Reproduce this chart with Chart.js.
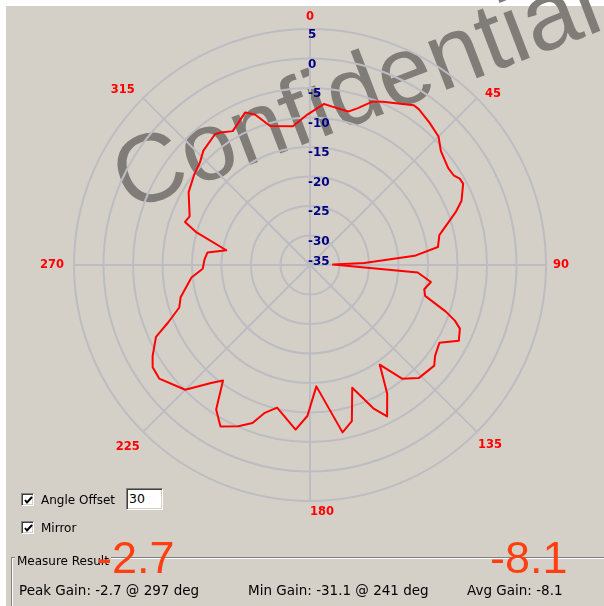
<!DOCTYPE html>
<html><head><meta charset="utf-8">
<script src="https://cdn.jsdelivr.net/npm/chart.js@4.4.1/dist/chart.umd.min.js"></script>
<style>
html,body{margin:0;padding:0;background:#fff;width:604px;height:606px;overflow:hidden}
body{position:relative}
.abs{position:absolute}
#panel{left:6px;top:6px;width:598px;height:600px;background:#d4d0c8}
#wm{left:128px;top:130px;font:97px "Liberation Sans",Arial,sans-serif;color:#807d79;white-space:nowrap;line-height:1;transform-origin:0 82px;transform:rotate(-21deg)}
#chart{left:0;top:0}
.ui{font:12px "DejaVu Sans",sans-serif;line-height:1;color:#000;white-space:nowrap}
.gain{font:13.5px "DejaVu Sans",sans-serif;line-height:1;color:#000;white-space:nowrap}
.chk{width:11px;height:11px;background:#fff;border:1px solid;border-color:#808080 #fff #fff #808080;box-shadow:inset 1px 1px 0 #404040, inset -1px -1px 0 #d4d0c8}
.chk svg{position:absolute;left:2px;top:2px}
#inp{left:126px;top:488px;width:33px;height:20px;background:#fff;border:1px solid;border-color:#808080 #fff #fff #808080;box-shadow:inset 1px 1px 0 #404040, inset -1px -1px 0 #d4d0c8;font:12.5px "DejaVu Sans",sans-serif;line-height:20px;padding-left:2px}
#group{left:11px;top:557px;width:700px;height:100px;border:1px solid #808080;box-shadow:inset 1px 1px 0 #fff, 1px 1px 0 #fff}
#legend{left:15px;top:555px;background:#d4d0c8;padding:0 2px}
.big{font:45px "Liberation Sans",Arial,sans-serif;line-height:1;color:#ff3f12;white-space:nowrap}
</style>
</head>
<body>
<div id="panel" class="abs"></div>
<div id="wm" class="abs">Confidential</div>
<canvas id="chart" class="abs" width="604" height="606"></canvas>

<div class="abs chk" style="left:21px;top:493px"><svg width="9" height="9" viewBox="0 0 9 9"><polyline points="1,4 3,6.5 8,1" fill="none" stroke="#000" stroke-width="2"/></svg></div>
<div class="abs ui" style="left:41px;top:494px">Angle Offset</div>
<div id="inp" class="abs">30</div>
<div class="abs chk" style="left:21px;top:521px"><svg width="9" height="9" viewBox="0 0 9 9"><polyline points="1,4 3,6.5 8,1" fill="none" stroke="#000" stroke-width="2"/></svg></div>
<div class="abs ui" style="left:41px;top:522px">Mirror</div>

<div id="group" class="abs"></div>
<div id="legend" class="abs ui">Measure Result</div>
<div class="abs gain" style="left:19px;top:584px">Peak Gain: -2.7 @ 297 deg</div>
<div class="abs gain" style="left:248px;top:584px">Min Gain: -31.1 @ 241 deg</div>
<div class="abs gain" style="left:467px;top:584px">Avg Gain: -8.1</div>
<div class="abs big" style="left:97px;top:535px">-2.7</div>
<div class="abs big" style="left:490px;top:535px">-8.1</div>

<script>
// ---- data (display angle in degrees, gain in dB) ----
const measuredAngles = [5, 8, 14, 17, 21, 24, 33, 35, 40, 45, 49, 55, 58, 60, 62, 67, 70, 77, 82, 85, 88, 89,
  94, 98, 102, 105, 109, 111, 113, 117, 121, 126, 129, 136, 141, 145, 149, 153, 156, 161, 165, 169, 177,
  181, 185, 193, 197, 200, 204, 209, 213, 217, 220, 225, 233, 237, 240, 245, 248, 252, 256, 264, 268,
  273, 277, 280, 286, 289, 292, 301, 308, 313, 317, 324, 326, 330, 337, 340, 344, 353, 359];
const gainDb = [-7.6, -7.9, -8.2, -7.2, -5.3, -4.7, -2.7, -2.8, -3.5, -4.2, -5.6, -6.4, -6.3, -5.7, -5.6, -7.1, -8.7, -12.5, -13.1, -17.2, -25.8, -31.1,
  -16.7, -14.3, -15.2, -14.8, -10.6, -8.7, -7.4, -6.7, -9.4, -8.8, -7.9, -8.4, -10.2, -14.4, -9.6, -6.2, -8.3, -13.0, -7.6, -6.1, -14.4,
  -9.4, -7.0, -10.2, -8.8, -6.5, -5.1, -3.7, -5.8, -10.5, -8.9, -5.1, -3.0, -3.2, -4.2, -6.2, -9.1, -11.7, -12.4, -14.8, -16.8,
  -17.1, -17.5, -20.6, -15.0, -12.6, -13.0, -11.0, -10.1, -9.5, -8.5, -7.6, -7.9, -8.8, -6.9, -7.9, -10.5, -11.3, -9.5];
const angleLabels = [0, 45, 90, 135, 180, 225, 270, 315];
const radialTicks = [5, 0, -5, -10, -15, -20, -25, -30, -35];

// one category per degree; unmeasured degrees stay empty and the line spans them
const degreeSlots = Array.from({length: 360}, (_, d) => d);
const series = degreeSlots.map(() => null);
measuredAngles.forEach((a, i) => { series[a] = gainDb[i]; });

const gridColor = '#bcbcc2';

const labelPlugin = {
  id: 'polarLabels',
  afterDraw(chart) {
    const s = chart.scales.r;
    const ctx = chart.ctx;
    ctx.save();
    // radial tick labels
    ctx.font = 'bold 12px "DejaVu Sans"';
    ctx.fillStyle = '#000080';
    ctx.textAlign = 'left';
    ctx.textBaseline = 'alphabetic';
    radialTicks.forEach(v => {
      const d = s.getDistanceFromCenterForValue(v);
      const y = v === s.min ? s.yCenter : s.yCenter - d + 9;
      ctx.fillText(String(v), s.xCenter - 2, y);
    });
    // angle labels
    ctx.font = 'bold 11.5px "DejaVu Sans"';
    ctx.fillStyle = '#ff0000';
    ctx.textBaseline = 'middle';
    angleLabels.forEach(a => {
      const idx = degreeSlots.indexOf(a);
      const txt = String(a);
      const w = ctx.measureText(txt).width, h = 9;
      const th = a * Math.PI / 180;
      const sn = Math.sin(th), cs = Math.cos(th);
      const pad = sn < -0.1 ? 10 : 7;
      const dist = s.drawingArea + pad + Math.abs(sn) * w / 2 + Math.abs(cs) * h / 2;
      const p = s.getPointPosition(idx, dist);
      let x = p.x, y = p.y;
      if (cs > 0.1 && Math.abs(sn) > 0.1) { x += 5 * Math.sign(sn); y += 7; }
      ctx.textAlign = a === 180 ? 'left' : 'center';
      ctx.fillText(txt, x, y);
    });
    ctx.restore();
  }
};

new Chart(document.getElementById('chart'), {
  type: 'radar',
  data: {
    labels: degreeSlots,
    datasets: [{
      data: series,
      spanGaps: true,
      borderColor: '#ff0000',
      borderWidth: 2,
      borderJoinStyle: 'round',
      backgroundColor: 'transparent',
      fill: false,
      pointRadius: 0,
      pointHoverRadius: 0,
      tension: 0
    }]
  },
  options: {
    responsive: false,
    animation: false,
    events: [],
    layout: {padding: {left: 74, right: 58, top: 29, bottom: 105}},
    plugins: {legend: {display: false}, tooltip: {enabled: false}},
    scales: {
      r: {
        min: -35, max: 5, startAngle: 0,
        ticks: {display: false, stepSize: 5},
        pointLabels: {display: false},
        grid: {circular: true, color: gridColor, lineWidth: 2},
        angleLines: {display: true, color: gridColor, lineWidth: c => (degreeSlots[c.index] % 45 === 0 ? 2 : 0)}
      }
    }
  },
  plugins: [labelPlugin]
});
</script>
</body></html>
